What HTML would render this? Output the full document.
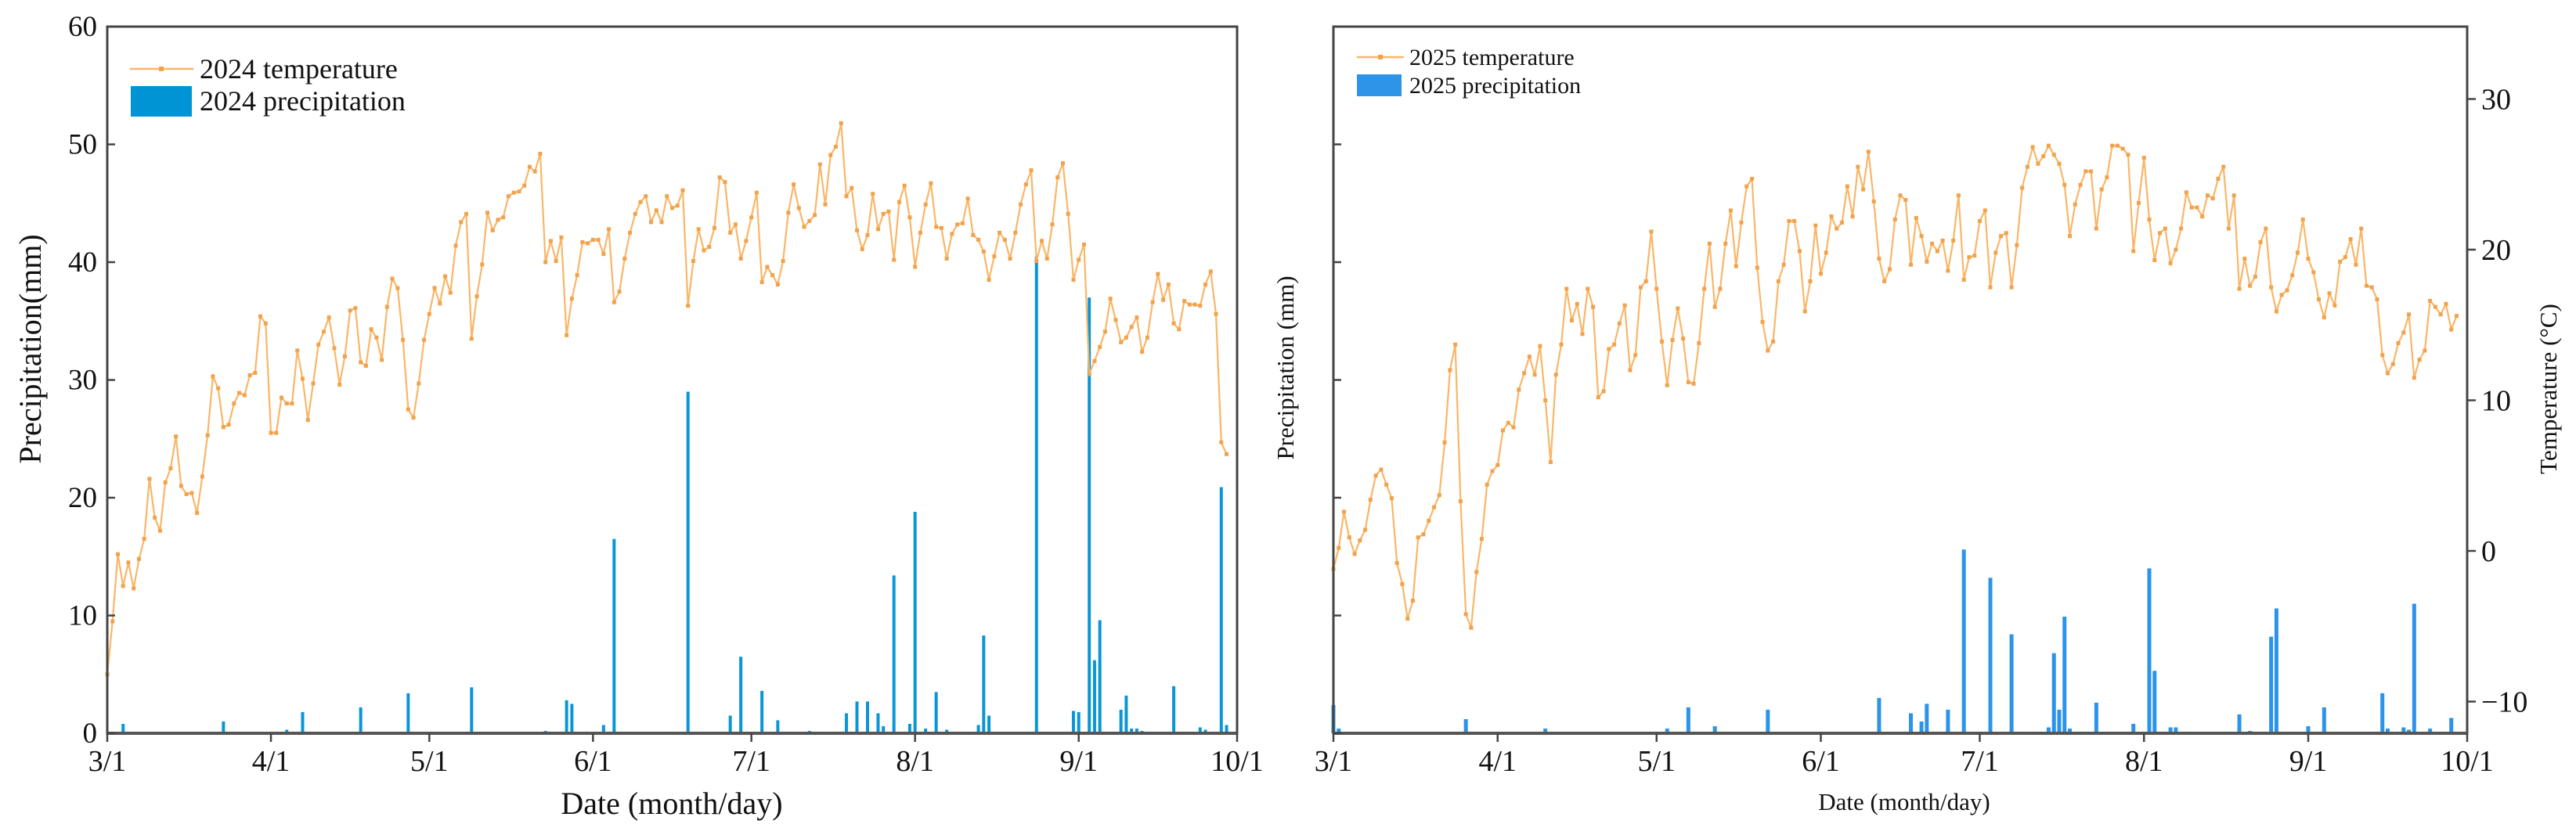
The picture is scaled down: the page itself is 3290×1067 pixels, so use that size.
<!DOCTYPE html>
<html><head><meta charset="utf-8"><style>
html,body{margin:0;padding:0;background:#fff;}
svg{display:block;font-family:"Liberation Serif",serif;}
</style></head><body>
<svg id="chart" width="3290" height="1067" viewBox="0 0 3290 1067" xmlns="http://www.w3.org/2000/svg">
<g id="left"></g>
<g id="right"></g>
</svg>
<script>
const dateTicks = ["3/1","4/1","5/1","6/1","7/1","8/1","9/1","10/1"];
const dateTickDays = [0,31,61,92,122,153,184,214];
const precipTicks = [0,10,20,30,40,50,60];
const tempTicks = [-10,0,10,20,30];
const temp2024 = [5,9.5,15.2,12.5,14.5,12.3,14.8,16.5,21.6,18.3,
17.2,21.3,22.5,25.2,21,20.3,20.4,18.7,21.8,25.3,
30.3,29.3,26,26.2,28,28.9,28.7,30.4,30.6,35.4,
34.8,25.5,25.5,28.5,28,28,32.5,30.1,26.6,29.7,
33,34.1,35.3,32.7,29.6,32,35.9,36.1,31.5,31.2,
34.3,33.6,31.7,36.2,38.6,37.8,33.4,27.5,26.8,29.7,
33.4,35.6,37.8,36.5,38.8,37.4,41.4,43.4,44.1,33.5,
37.1,39.8,44.2,42.7,43.6,43.8,45.6,45.9,46,46.5,
48.1,47.7,49.2,40,41.8,40.1,42.1,33.8,36.9,38.9,
41.7,41.6,41.9,41.9,40.7,42.8,36.6,37.5,40.3,42.5,
44.1,45.1,45.6,43.4,44.4,43.4,45.6,44.6,44.8,46.1,
36.3,40.1,42.8,41,41.3,42.9,47.2,46.8,42.5,43.2,
40.3,41.8,43.8,45.9,38.3,39.6,38.9,38.1,40.1,44.2,
46.6,44.6,43,43.5,44,48.3,44.9,49.1,49.8,51.8,
45.6,46.3,42.7,41.1,42.3,45.8,42.8,44.1,44.3,40.2,
45.1,46.5,43.8,39.6,42.5,44.9,46.7,43,42.9,40.3,
42.4,43.2,43.3,45.4,42.3,41.9,40.9,38.5,40.5,42.5,
41.9,40.3,42.5,44.9,46.6,47.8,40.1,41.8,40.3,43.2,
47.2,48.4,44.1,38.5,40.2,41.5,30.5,31.6,32.8,34.1,
36.9,35.1,33.2,33.6,34.5,35.3,32.4,33.6,36.6,39,
36.8,38.1,34.8,34.3,36.7,36.4,36.4,36.3,38.1,39.2,
35.6,24.7,23.7];
const precipDays2024 = [3,22,34,37,48,57,69,83,87,88,94,96,110,118,120,124,127,133,140,142,144,146,147,149,152,153,155,157,159,165,166,167,176,183,184,186,187,188,192,193,194,195,196,202,207,208,211,212];
const precipVals2024 = [0.8,1.0,0.3,1.8,2.2,3.4,3.9,0.2,2.8,2.5,0.7,16.5,29,1.5,6.5,3.6,1.1,0.2,1.7,2.7,2.7,1.7,0.6,13.4,0.8,18.8,0.4,3.5,0.3,0.7,8.3,1.5,40.5,1.9,1.8,37,6.2,9.6,2,3.2,0.4,0.4,0.2,4,0.5,0.3,20.9,0.7];
const temp2025 = [-1.2,0.2,2.6,0.9,-0.2,0.7,1.4,3.4,5,5.4,
4.4,3.5,-0.8,-2.2,-4.5,-3.3,0.9,1.1,2,2.9,
3.7,7.2,12,13.7,3.3,-4.2,-5.1,-1.4,0.8,4.4,
5.3,5.7,8,8.5,8.2,10.7,11.8,12.9,11.7,13.6,
10,5.9,11.7,13.7,17.4,15.3,16.4,14.4,17.4,16.2,
10.2,10.6,13.4,13.7,15.1,16.3,12,13,17.5,17.9,
21.2,17.4,13.9,11,14,16.1,14.1,11.2,11.1,13.8,
17.4,20.4,16.2,17.4,20.4,22.6,18.9,21.8,24.2,24.7,
18.8,15.2,13.3,13.9,17.9,19,21.9,21.9,19.9,15.9,
17.9,21.6,18.4,19.8,22.2,21.4,21.8,24.2,22.2,25.5,
24,26.5,23.2,19.4,17.9,18.7,22,23.6,23.3,19,
22.1,20.9,19.2,20.4,19.9,20.6,18.6,20.6,23.6,18,
19.5,19.6,21.9,22.6,17.5,19.8,20.9,21.1,17.5,20.3,
24.1,25.5,26.8,25.7,26.2,26.9,26.3,25.7,24.3,20.9,
23,24.3,25.2,25.2,21.4,24,24.8,26.9,26.9,26.7,
26.3,19.9,23.1,26.1,22,19.3,21.1,21.4,19.1,20,
21.4,23.8,22.8,22.8,22.2,23.6,23.4,24.7,25.5,21.4,
23.6,17.4,19.4,17.6,18.2,20.5,21.4,17.5,15.9,17,
17.3,18.3,19.8,22,19.4,18.5,16.7,15.5,17.1,16.3,
19.2,19.5,20.7,19,21.4,17.6,17.5,16.7,13,11.8,
12.4,13.8,14.5,15.7,11.5,12.7,13.3,16.6,16.2,15.7,
16.4,14.7,15.6];
const precipDays2025 = [0,1,25,40,47,59,63,67,72,82,89,103,105,109,111,112,116,119,124,128,135,136,137,138,139,144,151,154,155,158,159,163,171,173,177,178,184,187,198,199,202,203,204,207,211];
const precipVals2025 = [2.4,0.4,1.2,0.4,0.1,0.1,0.4,2.2,0.6,2,0.1,3,0.1,1.7,1,2.5,2,15.6,13.2,8.4,0.5,6.8,2,9.9,0.4,2.6,0.8,14,5.3,0.5,0.5,0.1,1.6,0.2,8.2,10.6,0.6,2.2,3.4,0.4,0.5,0.3,11,0.4,1.3];

const NS = "http://www.w3.org/2000/svg";
function mk(parent, tag, attrs, text){
  const e = document.createElementNS(NS, tag);
  for (const k in attrs) e.setAttribute(k, attrs[k]);
  if (text !== undefined) e.textContent = text;
  parent.appendChild(e);
  return e;
}
const Y0 = 937, Y60 = 34;
const yP = v => Y0 - v * (Y0 - Y60) / 60;
const yT = t => 704 - t * 19.25;
const xL = d => 137 + d * (1580 - 137) / 214;
const xR = d => 1703 + d * (3151 - 1703) / 214;

function drawChart(g, x, x0, x1, temps, tempY, pDays, pVals, barColor, barW){
  // bars
  for (let i = 0; i < pDays.length; i++){
    const b = mk(g, "rect", {x: x(pDays[i]) - barW/2, y: yP(pVals[i]), width: barW, height: Y0 - yP(pVals[i]), fill: barColor});
    
    
  }
  // line
  let d = "";
  temps.forEach((t, i) => { d += (i ? "L" : "M") + x(i).toFixed(1) + "," + tempY(t).toFixed(1); });
  const ln = mk(g, "path", {d: d, fill: "none", stroke: "#F9B668", "stroke-width": 2.2});
  
  
  temps.forEach((t, i) => {
    const m = mk(g, "rect", {x: x(i) - 2.5, y: tempY(t) - 2.5, width: 5, height: 5, fill: "#F2A24A"});
    
    
  });
  // frame
  const fr = mk(g, "rect", {x: x0, y: Y60, width: x1 - x0, height: Y0 - Y60, fill: "none", stroke: "#444", "stroke-width": 3});
  
  
  mk(g, "line", {x1: x0, y1: Y0, x2: x1, y2: Y0, stroke: "#555", "stroke-width": 4});
  // x ticks
  dateTickDays.forEach((dd, i) => {
    const xx = x(dd);
    mk(g, "line", {x1: xx, y1: Y0, x2: xx, y2: Y0 + 11, stroke: "#444", "stroke-width": 2.5});
    const t = mk(g, "text", {x: xx, y: 985, "font-size": 38, "text-anchor": "middle", fill: "#111"}, dateTicks[i]);
    
    
  });
  // left y ticks (inward)
  precipTicks.forEach(v => {
    mk(g, "line", {x1: x0, y1: yP(v), x2: x0 + 10, y2: yP(v), stroke: "#444", "stroke-width": 2.5});
  });
}

const gl = document.getElementById("left");
drawChart(gl, xL, 137, 1580, temp2024, yP, precipDays2024, precipVals2024, "#0A96D6", 4);
precipTicks.forEach(v => {
  const t = mk(gl, "text", {x: 124, y: yP(v) + 12, "font-size": 37, "text-anchor": "end", fill: "#111"}, String(v));
  
  
});
let t;
t = mk(gl, "text", {x: 858, y: 1040, "font-size": 40, "text-anchor": "middle", fill: "#111"}, "Date (month/day)");


t = mk(gl, "text", {x: 0, y: 0, "font-size": 40, "text-anchor": "middle", fill: "#111", transform: "translate(52,446) rotate(-90)"}, "Precipitation(mm)");


// legend left
mk(gl, "line", {x1: 166, y1: 88, x2: 247, y2: 88, stroke: "#F9B668", "stroke-width": 2.5});
mk(gl, "rect", {x: 203, y: 85, width: 6, height: 6, fill: "#F2A24A"});
t = mk(gl, "text", {x: 255, y: 100, "font-size": 36, fill: "#111"}, "2024 temperature");


mk(gl, "rect", {x: 167, y: 110, width: 78, height: 39, fill: "#0094D4"});
t = mk(gl, "text", {x: 255, y: 141, "font-size": 36, fill: "#111"}, "2024 precipitation");



const gr = document.getElementById("right");
drawChart(gr, xR, 1703, 3151, temp2025, yT, precipDays2025, precipVals2025, "#2B93EA", 5);
tempTicks.forEach(v => {
  mk(gr, "line", {x1: 3151, y1: yT(v), x2: 3162, y2: yT(v), stroke: "#444", "stroke-width": 2.5});
  t = mk(gr, "text", {x: 3169, y: yT(v) + 13, "font-size": 38, fill: "#111"}, v < 0 ? "\u2212" + Math.abs(v) : String(v));
  
  
});
t = mk(gr, "text", {x: 2432, y: 1035, "font-size": 31, "text-anchor": "middle", fill: "#111"}, "Date (month/day)");


t = mk(gr, "text", {x: 0, y: 0, "font-size": 31, "text-anchor": "middle", fill: "#111", transform: "translate(1652,470) rotate(-90)"}, "Precipitation (mm)");


t = mk(gr, "text", {x: 0, y: 0, "font-size": 31, "text-anchor": "middle", fill: "#111", transform: "translate(3265,497) rotate(-90)"}, "Temperature (\u00B0C)");


// legend right
mk(gr, "line", {x1: 1733, y1: 73, x2: 1793, y2: 73, stroke: "#F9B668", "stroke-width": 2.5});
mk(gr, "rect", {x: 1760, y: 70, width: 6, height: 6, fill: "#F2A24A"});
t = mk(gr, "text", {x: 1800, y: 83, "font-size": 30, fill: "#111"}, "2025  temperature");


mk(gr, "rect", {x: 1733, y: 95, width: 57, height: 28, fill: "#2D94E8"});
t = mk(gr, "text", {x: 1800, y: 119, "font-size": 30, fill: "#111"}, "2025  precipitation");


</script>
</body></html>
